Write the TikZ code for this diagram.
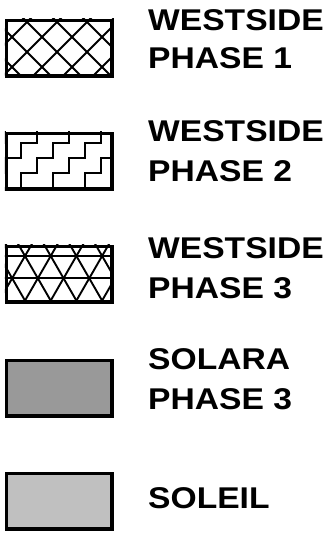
\documentclass[tikz,border=0pt]{standalone}
\usepackage{fontspec}
\newfontfamily\keyfont[FakeStretch=1.12]{Liberation Sans}
\usetikzlibrary{positioning}
\definecolor{solaragray}{HTML}{999999}
\definecolor{soleilgray}{HTML}{C0C0C0}
\tikzset{
  keybox/.style={draw=black,line width=3.6pt,minimum width=105.4pt,
    minimum height=55.4pt,inner sep=0pt,anchor=north west},
  hatchline/.style={line width=1.9pt},
  keytext/.style={font=\keyfont\bfseries\fontsize{30}{30}\selectfont,
    anchor=base west,inner sep=0pt},
}

\begin{document}
\begin{tikzpicture}[x=1pt,y=-1pt]
  \useasboundingbox (0,0) rectangle (330,534);
  % westside phase 1: diagonal cross hatch
  \begin{scope}[shift={(0,17)}]
    \node[keybox] (wsone) at (4.8,1.8) {};
    \begin{scope}
      \clip (wsone.north west) rectangle (wsone.south east);
      \foreach \k in {-4,...,5}{
        \draw[hatchline] ({22+30*\k-10},-10) -- ++(80,80);
        \draw[hatchline] ({32+30*\k+10},-10) -- ++(-80,80);
      }
    \end{scope}
  \end{scope}
  % westside phase 2: stairs
  \begin{scope}[shift={(0,130)}]
    \node[keybox] (wstwo) at (4.8,1.8) {};
    \begin{scope}
      \clip (wstwo.north west) rectangle (wstwo.south east);
      \foreach \k in {-4,...,4}{
        \draw[hatchline] ({-11+32*\k},88)
          \foreach \s in {1,...,7}{ -- ++(0,-15) -- ++(16,0) };
      }
    \end{scope}
  \end{scope}
  % westside phase 3: triangles
  \begin{scope}[shift={(0,243)}]
    \node[keybox] (wsthree) at (4.8,1.8) {};
    \begin{scope}
      \clip (wsthree.north west) rectangle (wsthree.south east);
      \foreach \i in {-4,...,7}{
        \draw[hatchline] ({25+25.7*\i-25.7},-31.6) -- ++(77.1,133.8);
        \draw[hatchline] ({25+25.7*\i+25.7},-31.6) -- ++(-77.1,133.8);
      }
      \draw[hatchline] (0,13) -- (120,13);
      \draw[hatchline] (0,35.3) -- (120,35.3);
    \end{scope}
  \end{scope}
  % solara and soleil: plain fills
  \node[keybox,fill=solaragray] (solara) at (4.8,358.8) {};
  \node[keybox,fill=soleilgray] (soleil) at (4.8,471.8) {};

  \node[keytext] (wsonea) at (148,31) {WESTSIDE};
  \node[keytext] (wsoneb) at (148,69) {PHASE 1};
  \node[keytext] (wstwoa) at (148,142) {WESTSIDE};
  \node[keytext] (wstwob) at (148,182) {PHASE 2};
  \node[keytext] (wsthreea) at (148,258) {WESTSIDE};
  \node[keytext] (wsthreeb) at (148,298) {PHASE 3};
  \node[keytext] (solaraa) at (148,369) {SOLARA};
  \node[keytext] (solarab) at (148,409) {PHASE 3};
  \node[keytext] (soleila) at (148,508) {SOLEIL};
\end{tikzpicture}
\end{document}
